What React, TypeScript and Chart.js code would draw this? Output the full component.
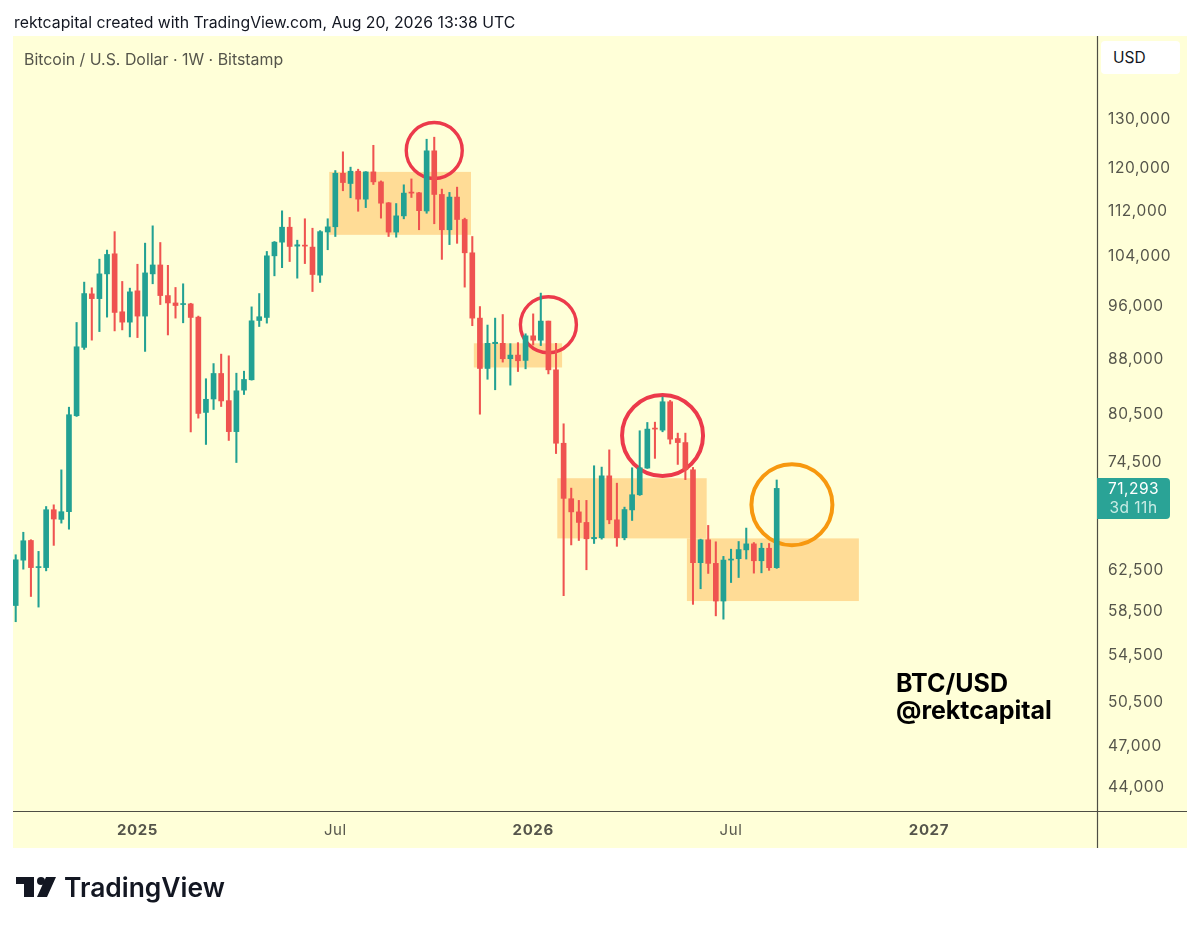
import React, { useEffect, useRef } from "react";
import { Chart, registerables } from "chart.js";

Chart.register(...registerables);

const opens = [58960,63460,65520,62700,62700,68870,67800,68650,80210,89610,97740,96990,100960,104300,94940,93360,98220,94280,100960,102430,97470,96310,96060,96160,94120,80640,82420,85900,82200,78170,83610,85030,93610,94070,103960,106290,108900,105610,105780,105440,100750,108060,108980,118850,116900,119250,113970,119120,117210,113290,108040,110920,115280,115150,111800,123260,114840,108450,114350,110270,104470,93970,86600,90160,90209,87980,88500,87740,91310,90660,93520,86410,76710,70110,68630,67465,65700,65810,72760,67750,65810,68850,70565,73680,78620,78360,82050,77300,76795,73480,63200,65590,63130,59390,63470,63610,64530,65160,63400,64700,62690];
const highs = [64020,66400,65600,64370,69230,69420,73470,81330,93310,99620,98710,103400,104930,108120,99730,98650,102550,106120,109140,106230,102370,98760,99350,96260,94280,85170,87290,88640,88400,85940,86220,95700,97790,104700,106400,111830,110640,106630,110400,108720,108300,110400,119380,123060,120040,119640,119180,124370,117390,113350,113160,116650,117770,115220,125600,126015,115840,115220,116210,110510,107270,95750,92920,93970,94520,90160,90310,91610,94620,97860,93520,90209,79170,71325,69920,69920,73960,73800,75890,71900,69160,73720,78280,79340,79380,82680,82230,77980,77980,73760,65660,67140,65380,63850,64600,65410,66850,65300,65230,65200,72275];
const lows = [57430,62540,59830,58810,62370,65000,67390,66730,80120,89320,90670,91940,94120,92040,92190,91150,91050,89030,99350,96060,91440,93970,93260,78130,79900,76560,81030,81420,77060,74350,83020,84980,92700,93210,100640,101985,103000,100260,102660,98110,99570,104990,107270,115530,114220,111750,112420,116710,110510,107270,107150,110390,114280,108450,111390,109510,103360,105870,106090,98815,92820,80410,85100,83660,87500,84290,86170,86550,89970,89880,85840,75440,59910,65050,65520,62480,65200,65660,67320,64900,65590,67680,70490,73640,74850,78150,76620,74120,72315,59070,60585,62110,57980,57670,61200,61700,63575,62140,62170,62420,62620];
const closes = [63500,65490,62700,62800,68870,67840,68650,80340,89700,97790,96990,100960,104190,94840,93360,98060,94280,101120,102430,97470,96310,95910,96210,94070,80510,82380,85900,82160,78170,83520,85070,93560,94180,103960,106290,108900,105550,105840,105610,100860,108120,108960,118850,117080,119250,113970,119120,117210,113225,108040,110920,115090,115090,111860,123260,114840,108450,114350,110270,104470,93970,86600,90209,90360,87980,88500,87690,91310,90660,93520,86410,76710,70150,68630,67465,65700,65845,72760,67750,65810,68890,70565,73720,78490,78490,82050,77220,76795,73480,63200,65590,63130,59390,63470,63575,64560,65160,63400,64700,62690,71293];
const weekIndex = opens.map((_, i) => i);

const priceTicks = [130000,120000,112000,104000,96000,88000,80500,74500,62500,58500,54500,50500,47000,44000];
const timeTickWeeks = [16, 42, 68, 94, 120];
const timeTickLabels = ["2025", "Jul", "2026", "Jul", "2027"];

const zoneWeekStart = [41.2, 60.2, 71.17, 88.2];
const zoneWeekEnd = [59.83, 71.8, 90.8, 110.8];
const zoneTop = [119120, 90209, 72480, 65740];
const zoneBottom = [107560, 86740, 65740, 59390];

const circleWeeks = [55, 70, 85, 102];
const circlePrices = [123320, 92970, 77685, 69425];
const circleRadii = [28, 28, 40.5, 40.5];
const circleColors = ["#ec3a4b", "#ec3a4b", "#ec3a4b", "#f7980f"];

const UP = "#22a193";
const DOWN = "#ef5350";
const PANEL = "#ffffd8";
const ZONE = "#ffdc96";
const AXIS = "#4e4e44";
const TEXT = "#55554b";
const FONT = "Inter, 'Liberation Sans', sans-serif";

const panelPlugin = {
  id: "panel",
  beforeDraw(chart: any) {
    const { ctx, chartArea: a, scales } = chart;
    const xAxis = scales.x;
    const yAxis = scales.y;
    ctx.letterSpacing = "0.6px";
    ctx.save();
    ctx.fillStyle = PANEL;
    ctx.fillRect(a.left, a.top - 1, yAxis.right - a.left, xAxis.bottom - a.top + 1);
    ctx.restore();
  },
  beforeDatasetsDraw(chart: any) {
    const { ctx, scales } = chart;
    ctx.save();
    ctx.fillStyle = ZONE;
    zoneWeekStart.forEach((_, i) => {
      const x0 = scales.x.getPixelForValue(zoneWeekStart[i]);
      const x1 = scales.x.getPixelForValue(zoneWeekEnd[i]);
      const y0 = scales.y.getPixelForValue(zoneTop[i]);
      const y1 = scales.y.getPixelForValue(zoneBottom[i]);
      ctx.fillRect(x0, y0, x1 - x0, y1 - y0);
    });
    ctx.restore();
  },
  afterDraw(chart: any) {
    const { ctx, chartArea: a, scales } = chart;
    ctx.save();
    ctx.strokeStyle = AXIS;
    ctx.lineWidth = 1.2;
    ctx.beginPath();
    ctx.moveTo(a.left, a.bottom + 0.5);
    ctx.lineTo(scales.y.right, a.bottom + 0.5);
    ctx.moveTo(a.right + 0.5, a.top - 1);
    ctx.lineTo(a.right + 0.5, scales.x.bottom);
    ctx.stroke();
    ctx.restore();
  },
};

const abs = (o: React.CSSProperties): React.CSSProperties => ({ position: "absolute", whiteSpace: "nowrap", fontFamily: FONT, ...o });

export default function App() {
  const ref = useRef<HTMLCanvasElement>(null);
  useEffect(() => {
    document.body.style.margin = "0";
    const colorOf = (ctx: any) => (closes[ctx.dataIndex] >= opens[ctx.dataIndex] ? UP : DOWN);
    const chart = new Chart(ref.current as HTMLCanvasElement, {
      type: "bar",
      data: {
        datasets: [
          {
            label: "Wick",
            data: weekIndex.map((i) => ({ x: i, y: [lows[i], highs[i]] })),
            backgroundColor: colorOf,
            barThickness: 1.4,
            grouped: false,
            order: 3,
          },
          {
            label: "Body",
            data: weekIndex.map((i) => ({ x: i, y: [opens[i], closes[i]] })),
            backgroundColor: colorOf,
            barThickness: 5,
            minBarLength: 1,
            grouped: false,
            order: 2,
          },
          ...circleWeeks.map((w, i) => ({
            type: "scatter",
            label: "Circle " + (i + 1),
            data: [{ x: w, y: circlePrices[i] }],
            pointRadius: circleRadii[i],
            pointBorderWidth: i < 2 ? 3.4 : 4,
            pointBackgroundColor: "rgba(0,0,0,0)",
            pointBorderColor: circleColors[i],
            order: 4,
            clip: false,
          })),
        ],
      } as any,
      plugins: [panelPlugin],
      options: {
        animation: false,
        responsive: false,
        layout: { autoPadding: false, padding: { left: 13, right: 12, top: 37, bottom: 79 } },
        plugins: { legend: { display: false }, tooltip: { enabled: false } },
        scales: {
          x: {
            type: "linear",
            offset: false,
            min: -0.355,
            max: 142.09,
            grid: { display: false, drawTicks: false },
            border: { display: false },
            afterBuildTicks: (s: any) => {
              s.ticks = timeTickWeeks.map((value) => ({ value }));
            },
            afterFit: (s: any) => {
              s.height = 37;
            },
            ticks: {
              autoSkip: false,
              maxRotation: 0,
              padding: 10,
              color: TEXT,
              font: (c: any) =>
                ({ family: FONT, size: 15, weight: timeTickLabels[timeTickWeeks.indexOf(c.tick?.value)] === "Jul" ? 400 : 700 }) as any,
              callback: (v: any) => timeTickLabels[timeTickWeeks.indexOf(v)] ?? "",
            },
          },
          y: {
            type: "logarithmic",
            position: "right",
            min: 42250,
            max: 148250,
            grid: { display: false, drawTicks: false },
            border: { display: false },
            afterBuildTicks: (s: any) => {
              s.ticks = priceTicks.map((value) => ({ value }));
            },
            afterFit: (s: any) => {
              s.width = 90;
            },
            ticks: {
              autoSkip: false,
              padding: 11,
              labelOffset: 1,
              color: TEXT,
              font: { family: FONT, size: 15.5 },
              callback: (v: any) => Number(v).toLocaleString("en-US"),
            },
          },
        },
      } as any,
    });
    return () => chart.destroy();
  }, []);

  return (
    <div style={{ position: "absolute", left: 0, top: 0, width: 1199, height: 927, background: "#fff", overflow: "hidden" }}>
      <canvas ref={ref} width={1199} height={927} style={{ display: "block", width: 1199, height: 927 }} />
      <div style={abs({ left: 14, top: 14, fontSize: 15.8, color: "#131722", lineHeight: "18px" })}>
        rektcapital created with TradingView.com, Aug 20, 2026 13:38 UTC
      </div>
      <div style={abs({ left: 24, top: 50.5, fontSize: 15.9, color: TEXT, lineHeight: "18px" })}>
        Bitcoin / U.S. Dollar · 1W · Bitstamp
      </div>
      <div style={abs({ left: 1101, top: 41, width: 79, height: 33, background: "#fff", borderRadius: 4, fontSize: 15.5, color: "#131722", lineHeight: "34px", paddingLeft: 12, boxSizing: "border-box" })}>
        USD
      </div>
      <div style={abs({ left: 1097, top: 478, width: 73, height: 41, background: "#2aa396", borderRadius: "0 4px 4px 0", fontSize: 15.5, letterSpacing: 0.5, color: "#fff", lineHeight: "19px", paddingTop: 1, boxSizing: "border-box", textAlign: "center" })}>
        <div>71,293</div>
        <div style={{ color: "#c8ebe4" }}>3d 11h</div>
      </div>
      <div style={abs({ left: 896, top: 669.5, fontSize: 25, fontWeight: 700, color: "#000", lineHeight: "27px" })}>
        BTC/USD
        <br />
        @rektcapital
      </div>
      <svg style={{ position: "absolute", left: 16, top: 877 }} width={40} height={21} viewBox="0 0 40 21">
        <path d="M0 0H18V20H8V7H0Z M30 0H40L31 20H21Z" fill="#131722" />
        <circle cx={25} cy={4} r={4} fill="#131722" />
      </svg>
      <div style={abs({ left: 64, top: 870, fontSize: 26.4, fontWeight: 600, color: "#131722", lineHeight: "34px" })}>TradingView</div>
    </div>
  );
}
